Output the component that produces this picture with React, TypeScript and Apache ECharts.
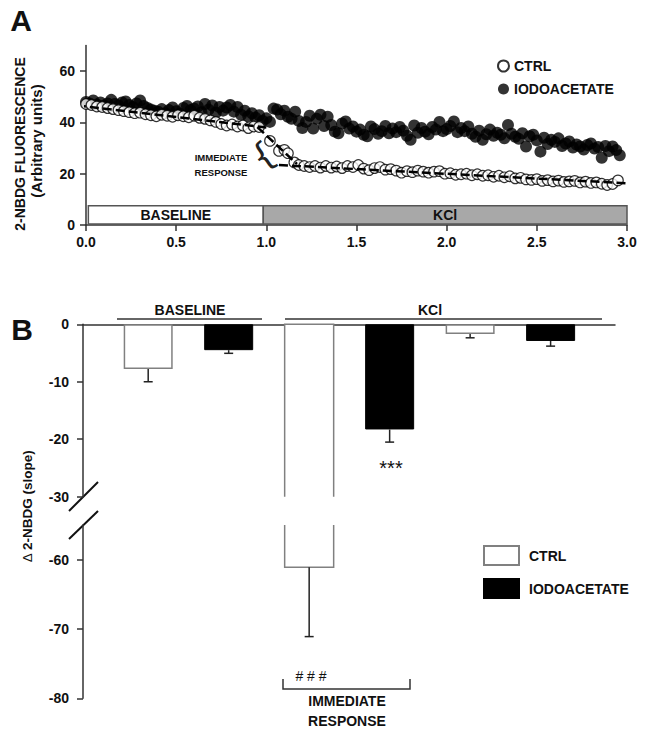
import React, { useEffect, useRef } from 'react';
import * as echarts from 'echarts';

const FONT = '"Liberation Sans", Arial, Helvetica, sans-serif';

// ---------- Panel A data (time in min, fluorescence in arbitrary units) ----------
const CTRL_BASE_T0 = 0;
const CTRL_DT = 0.03;
const ctrlBaseline = [47.2, 46.8, 46.2, 46.0, 45.6, 45.2, 44.8, 44.4, 44.0, 43.6, 43.8, 43.2, 42.8, 42.4, 43.0, 42.6, 42.2, 42.8, 42.4, 42.0, 42.6, 41.8, 41.4, 40.8, 40.2, 39.4, 38.8, 39.2, 38.4, 38.8, 37.8, 38.4, 38.2];
const ctrlImmediateT = [1.02, 1.07, 1.1, 1.12, 1.155];
const ctrlImmediate = [32.8, 28.9, 29.3, 28.0, 24.4];
const CTRL_KCL_T0 = 1.18;
const ctrlKcl = [
  23.4, 23.0, 22.6, 23.0, 22.4, 23.0, 22.4, 22.8, 22.2, 23.0,
  22.6, 23.4, 22.0, 21.4, 22.2, 22.6, 21.6, 21.8, 21.2, 20.4,
  21.0, 20.6, 21.2, 20.8, 20.4, 20.8, 21.0, 20.0, 20.2, 19.6,
  19.8, 20.0, 19.4, 19.8, 19.2, 19.4, 18.8, 19.2, 18.6, 19.0,
  18.2, 18.4, 17.8, 17.6, 17.9, 17.2, 17.5, 17.0, 17.3, 16.8,
  17.0, 17.2, 16.6, 16.9, 16.4, 16.6, 16.1, 15.6, 16.0, 17.4,
];
const IODO_T0 = 0;
const IODO_DT = 0.02;
const iodo = [
  48.0, 47.4, 48.6, 47.0, 47.8, 46.6, 47.4, 48.8, 47.2, 46.6,
  47.8, 48.2, 46.8, 46.0, 47.4, 48.6, 46.4, 45.6, 45.0, 44.6,
  44.2, 45.2, 43.6, 44.8, 45.8, 44.4, 43.4, 45.6, 46.4, 44.8,
  45.4, 46.2, 44.0, 47.2, 45.0, 46.6, 43.8, 46.0, 44.6, 45.8,
  46.8, 44.2, 46.0, 43.0, 44.6, 42.4, 43.6, 41.8, 42.8, 40.6,
  41.6, 40.2, 45.4, 45.0, 43.2, 44.6, 42.2, 41.4, 44.2, 40.6,
  37.8, 40.2, 42.6, 37.6, 41.4, 43.0, 38.6, 42.2, 39.0, 36.4,
  35.8, 39.6, 40.4, 37.6, 38.4, 36.4, 37.2, 35.2, 34.6, 38.4,
  37.4, 35.6, 36.6, 38.6, 35.8, 37.6, 36.2, 38.2, 36.8, 34.8,
  33.2, 38.8, 36.0, 37.8, 36.4, 35.4, 38.2, 37.2, 40.2, 36.6,
  37.4, 38.6, 40.4, 36.2, 37.8, 36.6, 38.4, 35.6, 34.4, 36.8,
  33.2, 35.4, 37.2, 34.8, 36.0, 35.2, 33.8, 39.0, 35.6, 34.4,
  33.6, 35.8, 30.6, 34.6, 35.2, 33.0, 28.6, 34.0, 31.6, 33.2,
  32.4, 33.8, 30.8, 31.8, 32.6, 30.2, 31.4, 30.6, 29.4, 31.2,
  31.8, 29.8, 30.4, 26.2, 30.8, 28.8, 30.6, 29.2, 27.2,
];
const fitBaseline = [[-0.05, 46.6], [1.0, 38.0]];
const fitImmediate = [[0.95, 38.2], [1.17, 23.8]];
const fitKcl = [[1.07, 23.4], [3.02, 16.2]];

const phaseNames = ['BASELINE', 'KCl'];
const phaseStart = [0.013, 0.983];
const phaseEnd = [0.983, 3.008];
const phaseBarLow = 0.4;
const phaseBarHigh = 7.5;
const yTicksA = [0, 20, 40, 60];

// ---------- Panel B data (slopes) ----------
const conditions = ['BASELINE', 'IMMEDIATE RESPONSE', 'KCl'];
const slopeCtrl = [-7.8, -61.1, -1.7];
const slopeCtrlErr = [2.2, 10.0, 0.65];
const slopeIodo = [-4.5, -18.3, -2.9];
const slopeIodoErr = [0.55, 2.2, 0.9];
const yTicksBUpper = [0, -10, -20, -30];
const yTicksBLower = [-60, -70, -80];
const BREAK_UPPER = -30;
const BREAK_LOWER = -55;

const BAR_W = 49;
const AXIS_COLOR = '#333';
const TEXT_COLOR = '#111';

export default function App() {
  const ref = useRef<HTMLDivElement | null>(null);

  useEffect(() => {
    if (!ref.current) return;
    const chart = echarts.init(ref.current, undefined, { renderer: 'svg' });

    const ctrlData: number[][] = [];
    ctrlBaseline.forEach((v, i) => ctrlData.push([+(CTRL_BASE_T0 + i * CTRL_DT).toFixed(3), v]));
    ctrlImmediate.forEach((v, i) => ctrlData.push([ctrlImmediateT[i], v]));
    ctrlKcl.forEach((v, i) => ctrlData.push([+(CTRL_KCL_T0 + i * CTRL_DT).toFixed(3), v]));
    const iodoData = iodo.map((v, i) => [+(IODO_T0 + i * IODO_DT).toFixed(3), v]);

    const pos = (k: number, s: number) => 2 * k + s;
    const ctrlBars = slopeCtrl.map((v, k) => [pos(k, 0), v]).filter((d) => d[1] >= BREAK_UPPER);
    const iodoBars = slopeIodo.map((v, k) => [pos(k, 1), v]);
    const brokenUpper = slopeCtrl.map((v, k) => [pos(k, 0), v]).filter((d) => d[1] < BREAK_UPPER);
    const brokenLower = slopeCtrl.map((v, k) => [pos(k, 0), v]).filter((d) => d[1] < BREAK_LOWER);
    const allErr = [
      ...slopeCtrl.map((v, k) => [pos(k, 0), v, slopeCtrlErr[k]]),
      ...slopeIodo.map((v, k) => [pos(k, 1), v, slopeIodoErr[k]]),
    ];
    const errUpper = allErr.filter((d) => d[1] >= BREAK_UPPER);
    const errLower = allErr.filter((d) => d[1] < BREAK_LOWER);

    const errRender = (_p: any, api: any) => {
      const x = api.value(0);
      const v = api.value(1);
      const e = api.value(2);
      const a = api.coord([x, v]);
      const b = api.coord([x, v - e]);
      const st = { stroke: '#222', lineWidth: 1.5 };
      return {
        type: 'group',
        children: [
          { type: 'line', shape: { x1: a[0], y1: a[1], x2: b[0], y2: b[1] }, style: st },
          { type: 'line', shape: { x1: b[0] - 4.5, y1: b[1], x2: b[0] + 4.5, y2: b[1] }, style: st },
        ],
      };
    };

    const brokenUpperRender = (_p: any, api: any) => {
      const x = api.value(0);
      const t = api.coord([x, 0]);
      const b = api.coord([x, BREAK_UPPER]);
      const l = t[0] - BAR_W / 2;
      const r = t[0] + BAR_W / 2;
      return {
        type: 'group',
        children: [
          { type: 'rect', shape: { x: l, y: t[1], width: BAR_W, height: b[1] - t[1] }, style: { fill: '#fff' } },
          {
            type: 'polyline',
            shape: { points: [[l, b[1]], [l, t[1]], [r, t[1]], [r, b[1]]] },
            style: { stroke: '#808080', lineWidth: 1.5, fill: 'none' },
          },
        ],
      };
    };

    const brokenLowerRender = (_p: any, api: any) => {
      const x = api.value(0);
      const v = api.value(1);
      const t = api.coord([x, BREAK_LOWER]);
      const b = api.coord([x, v]);
      const l = t[0] - BAR_W / 2;
      const r = t[0] + BAR_W / 2;
      return {
        type: 'group',
        children: [
          { type: 'rect', shape: { x: l, y: t[1], width: BAR_W, height: b[1] - t[1] }, style: { fill: '#fff' } },
          {
            type: 'polyline',
            shape: { points: [[l, t[1]], [l, b[1]], [r, b[1]], [r, t[1]]] },
            style: { stroke: '#808080', lineWidth: 1.5, fill: 'none' },
          },
        ],
      };
    };

    const fitStyle = { color: '#000', width: 2.5, type: [9, 4] as any };
    const axisLineStyle = { color: AXIS_COLOR, width: 1.5 };
    const boldLabel = (size: number) => ({ fontFamily: FONT, fontWeight: 'bold' as const, fontSize: size, color: TEXT_COLOR });

    const txt = (text: string, x: number, y: number, size: number, weight: string, extra: any = {}) => ({
      type: 'text',
      x,
      y,
      rotation: extra.rotation || 0,
      silent: true,
      style: {
        text,
        fontFamily: extra.fontFamily || FONT,
        fontSize: size,
        fontWeight: weight,
        fill: extra.fill || TEXT_COLOR,
        align: 'center',
        verticalAlign: 'middle',
        textAlign: 'center',
        textVerticalAlign: 'middle',
        rich: extra.rich,
      },
    });
    const ln = (x1: number, y1: number, x2: number, y2: number, w = 1.5, c = AXIS_COLOR) => ({
      type: 'line',
      silent: true,
      shape: { x1, y1, x2, y2 },
      style: { stroke: c, lineWidth: w },
    });

    const option: any = {
      animation: false,
      backgroundColor: '#fff',
      textStyle: { fontFamily: FONT },
      grid: [
        { left: 86, top: 45.5, width: 541, height: 179.5 },
        { left: 83, top: 324.3, width: 532, height: 172.4 },
        { left: 83, top: 525, width: 532, height: 173.3 },
      ],
      legend: [
        {
          data: ['CTRL', 'IODOACETATE'],
          orient: 'vertical',
          left: 492,
          top: 54,
          itemWidth: 11,
          itemHeight: 11,
          itemGap: 9,
          selectedMode: false,
          textStyle: boldLabel(14),
        },
        {
          data: ['CTRL (B)', 'IODOACETATE (B)'],
          orient: 'vertical',
          left: 478,
          top: 540,
          icon: 'rect',
          itemWidth: 35,
          itemHeight: 19,
          itemGap: 12,
          selectedMode: false,
          formatter: (n: string) => n.replace(' (B)', ''),
          textStyle: { ...boldLabel(14), padding: [0, 0, 0, 5] },
        },
      ],
      xAxis: [
        {
          gridIndex: 0,
          type: 'value',
          min: 0,
          max: 3,
          interval: 0.5,
          axisLine: { show: true, onZero: false, lineStyle: axisLineStyle },
          axisTick: { show: true, length: 6, lineStyle: axisLineStyle },
          axisLabel: { ...boldLabel(14), margin: 10, formatter: (v: number) => v.toFixed(1) },
          splitLine: { show: false },
        },
        {
          gridIndex: 1,
          type: 'value',
          min: -0.81,
          max: 5.8,
          position: 'top',
          axisLine: { show: true, onZero: false, lineStyle: axisLineStyle },
          axisTick: { show: false },
          axisLabel: { show: false },
          splitLine: { show: false },
        },
        {
          gridIndex: 2,
          type: 'value',
          min: -0.81,
          max: 5.8,
          show: false,
          splitLine: { show: false },
        },
      ],
      yAxis: [
        {
          gridIndex: 0,
          type: 'value',
          min: 0,
          max: 70,
          axisLine: { show: true, onZero: false, lineStyle: axisLineStyle },
          axisTick: { show: true, length: 6, lineStyle: axisLineStyle, customValues: yTicksA },
          axisLabel: { ...boldLabel(14), margin: 11, customValues: yTicksA },
          splitLine: { show: false },
        },
        {
          gridIndex: 1,
          type: 'value',
          min: BREAK_UPPER,
          max: 0,
          axisLine: { show: true, onZero: false, lineStyle: axisLineStyle },
          axisTick: { show: true, length: 6, lineStyle: axisLineStyle, customValues: yTicksBUpper },
          axisLabel: { ...boldLabel(14), margin: 14, customValues: yTicksBUpper },
          splitLine: { show: false },
        },
        {
          gridIndex: 2,
          type: 'value',
          min: -80,
          max: BREAK_LOWER,
          axisLine: { show: true, onZero: false, lineStyle: axisLineStyle },
          axisTick: { show: true, length: 6, lineStyle: axisLineStyle, customValues: yTicksBLower },
          axisLabel: { ...boldLabel(14), margin: 14, customValues: yTicksBLower },
          splitLine: { show: false },
        },
      ],
      series: [
        {
          name: 'IODOACETATE',
          type: 'scatter',
          xAxisIndex: 0,
          yAxisIndex: 0,
          symbol: 'circle',
          symbolSize: 12,
          itemStyle: { color: '#000' },
          data: iodoData,
          z: 2,
          markArea: {
            silent: true,
            label: { show: true, position: 'inside', ...boldLabel(14) },
            itemStyle: { borderColor: '#555', borderWidth: 1.5 },
            data: phaseNames.map((n, i) => [
              { name: n, xAxis: phaseStart[i], yAxis: phaseBarLow, itemStyle: { color: i === 0 ? '#fff' : '#a8a8a8' } },
              { xAxis: phaseEnd[i], yAxis: phaseBarHigh },
            ]),
          },
        },
        {
          name: 'CTRL',
          type: 'scatter',
          xAxisIndex: 0,
          yAxisIndex: 0,
          symbol: 'circle',
          symbolSize: 10.5,
          itemStyle: { color: '#fff', borderColor: '#000', borderWidth: 1.2 },
          data: ctrlData,
          z: 3,
        },
        ...[fitBaseline, fitImmediate, fitKcl].map((d) => ({
          type: 'line',
          xAxisIndex: 0,
          yAxisIndex: 0,
          data: d,
          symbol: 'none',
          clip: false,
          silent: true,
          lineStyle: fitStyle,
          z: 4,
        })),
        {
          name: 'CTRL (B)',
          type: 'bar',
          xAxisIndex: 1,
          yAxisIndex: 1,
          barWidth: BAR_W,
          barGap: '-100%',
          itemStyle: { color: '#fff', borderColor: '#808080', borderWidth: 1.5 },
          data: ctrlBars,
          z: 2,
        },
        {
          name: 'IODOACETATE (B)',
          type: 'bar',
          xAxisIndex: 1,
          yAxisIndex: 1,
          barWidth: BAR_W,
          barGap: '-100%',
          itemStyle: { color: '#000', borderColor: '#000', borderWidth: 1 },
          data: iodoBars,
          z: 2,
        },
        {
          type: 'custom',
          xAxisIndex: 1,
          yAxisIndex: 1,
          renderItem: brokenUpperRender,
          encode: { x: 0, y: 1 },
          data: brokenUpper,
          silent: true,
          z: 2,
        },
        {
          type: 'custom',
          xAxisIndex: 2,
          yAxisIndex: 2,
          renderItem: brokenLowerRender,
          encode: { x: 0, y: 1 },
          data: brokenLower,
          silent: true,
          z: 2,
        },
        {
          type: 'custom',
          xAxisIndex: 1,
          yAxisIndex: 1,
          renderItem: errRender,
          encode: { x: 0, y: 1 },
          data: errUpper,
          silent: true,
          clip: false,
          z: 3,
        },
        {
          type: 'custom',
          xAxisIndex: 2,
          yAxisIndex: 2,
          renderItem: errRender,
          encode: { x: 0, y: 1 },
          data: errLower,
          silent: true,
          clip: false,
          z: 3,
        },
      ],
      graphic: [
        txt('A', 21, 20, 30, 'bold'),
        txt('B', 22, 329, 30, 'bold'),
        txt('2-NBDG FLUORESCENCE', 20, 144, 14, 'bold', { rotation: Math.PI / 2 }),
        txt('(Arbitrary units)', 36, 141, 15, 'bold', { rotation: Math.PI / 2 }),
        txt('{d|\u2206} 2-NBDG (slope)', 27, 506, 13.5, 'bold', {
          rotation: Math.PI / 2,
          rich: { d: { fontSize: 13, fontWeight: 'normal', fontFamily: FONT, fill: TEXT_COLOR } },
        }),
        txt('IMMEDIATE', 221, 157, 9.5, 'bold'),
        txt('RESPONSE', 221, 172, 9.5, 'bold'),
        txt('{', 263, 155, 34, 'normal', { rotation: 0.6, fill: '#222', fontFamily: '"DejaVu Sans", sans-serif' }),
        txt(conditions[0], 190, 310, 14, 'bold'),
        txt(conditions[2], 430, 310, 14, 'bold'),
        ln(117, 319, 262, 319),
        ln(285, 319, 602, 319),
        txt('***', 391, 468, 20, 'normal'),
        txt('# # #', 311, 676, 14, 'normal'),
        {
          type: 'polyline',
          silent: true,
          shape: { points: [[283, 679], [283, 689], [410, 689], [410, 679]] },
          style: { stroke: AXIS_COLOR, lineWidth: 1.5, fill: 'none' },
        },
        txt('IMMEDIATE', 347, 701, 14, 'bold'),
        txt('RESPONSE', 347, 721, 14, 'bold'),
        ln(69, 511, 98, 482, 2, '#111'),
        ln(69, 539, 98, 511, 2, '#111'),
      ],
    };

    chart.setOption(option);
    return () => chart.dispose();
  }, []);

  return <div ref={ref} style={{ position: 'absolute', left: 0, top: 0, width: 645, height: 735 }} />;
}
